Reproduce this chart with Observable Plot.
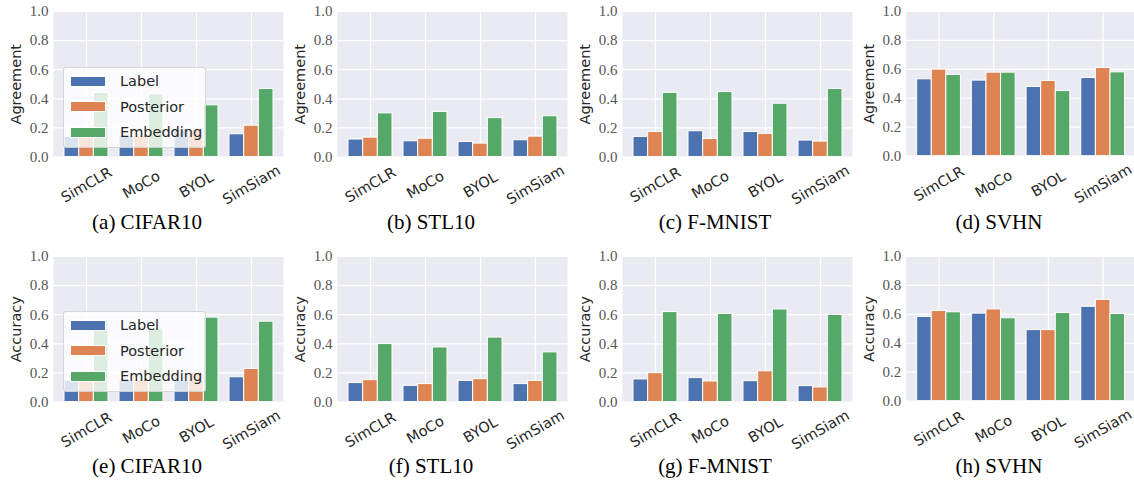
<!DOCTYPE html>
<html><head><meta charset="utf-8">
<script src="https://cdn.jsdelivr.net/npm/d3@7"></script>
<script src="https://cdn.jsdelivr.net/npm/@observablehq/plot@0.6"></script>
<style>
body{margin:0;background:#fff;}
#root{position:relative;width:1134px;height:487px;overflow:hidden;background:#fff;}
.panel{position:absolute;}
.panel svg{overflow:visible;}
.cap{position:absolute;width:240px;text-align:center;font-family:"Liberation Serif",serif;font-size:21px;line-height:1;color:#000;white-space:nowrap;}
.legend{position:absolute;width:141px;height:79px;background:rgba(255,255,255,0.8);border:1px solid rgba(204,204,204,0.8);border-radius:3px;}
.legend .sw{position:absolute;left:6px;width:36px;height:11px;box-sizing:border-box;border:0.5px solid #fff;}
.legend .lb{position:absolute;left:56px;height:20px;line-height:20px;font-family:"DejaVu Sans",sans-serif;font-size:14.5px;color:#262626;white-space:nowrap;}
</style></head><body><div id="root"></div>
<script>
const methods = ["SimCLR", "MoCo", "BYOL", "SimSiam"];
const series = ["Label", "Posterior", "Embedding"];
const colors = ["#4C72B0", "#DD8452", "#55A868"];
const yTicks = [0, 0.2, 0.4, 0.6, 0.8, 1.0];
const rowLabels = ["Agreement", "Accuracy"];
const captionsTop = ["(a) CIFAR10", "(b) STL10", "(c) F-MNIST", "(d) SVHN"];
const captionsBottom = ["(e) CIFAR10", "(f) STL10", "(g) F-MNIST", "(h) SVHN"];

// rows: Label, Posterior, Embedding; columns: SimCLR, MoCo, BYOL, SimSiam
const agreementCIFAR10 = [[0.14, 0.145, 0.185, 0.156], [0.14, 0.145, 0.184, 0.215], [0.44, 0.432, 0.355, 0.467]];
const agreementSTL10 = [[0.12, 0.108, 0.103, 0.115], [0.133, 0.126, 0.092, 0.14], [0.30, 0.31, 0.267, 0.28]];
const agreementFMNIST = [[0.138, 0.177, 0.172, 0.113], [0.172, 0.124, 0.159, 0.106], [0.441, 0.446, 0.366, 0.467]];
const agreementSVHN = [[0.531, 0.522, 0.478, 0.54], [0.598, 0.577, 0.52, 0.609], [0.561, 0.577, 0.45, 0.579]];
const accuracyCIFAR10 = [[0.148, 0.148, 0.148, 0.17], [0.148, 0.15, 0.198, 0.227], [0.557, 0.505, 0.58, 0.552]];
const accuracySTL10 = [[0.13, 0.111, 0.145, 0.123], [0.15, 0.123, 0.157, 0.145], [0.398, 0.375, 0.443, 0.341]];
const accuracyFMNIST = [[0.155, 0.164, 0.143, 0.109], [0.198, 0.141, 0.211, 0.10], [0.618, 0.605, 0.636, 0.598]];
const accuracySVHN = [[0.582, 0.605, 0.491, 0.652], [0.623, 0.634, 0.491, 0.70], [0.614, 0.573, 0.609, 0.602]];

const rows = [
  [agreementCIFAR10, agreementSTL10, agreementFMNIST, agreementSVHN],
  [accuracyCIFAR10, accuracySTL10, accuracyFMNIST, accuracySVHN]
];

const colLeft = [0, 284, 569, 852.5];
const rowTop = [0, 244.5];
const capTop = [211.5, 455.5];
const capCenter = [147, 431, 715, 999];
const legendPos = [[63, 67], [63, 311]];

function panel(values, ylabel) {
  const data = [];
  series.forEach((s, i) => methods.forEach((m, j) => data.push({method: m, series: s, value: values[i][j]})));
  const W = 230, mL = 53, mT = 11, H = 145.5, mB = 60;
  const pIn = 0.2, pOut = 0.19;
  const step = W / (methods.length - pIn + 2 * pOut);
  const bw = step * (1 - pIn);
  const sub = bw / series.length;
  return Plot.plot({
    width: mL + W, height: mT + H + mB,
    marginLeft: mL, marginRight: 0, marginTop: mT, marginBottom: mB,
    style: {background: "transparent", overflow: "visible"},
    x: {domain: methods, paddingInner: pIn, paddingOuter: pOut, axis: null},
    y: {domain: [0, 1], axis: null},
    marks: [
      Plot.frame({fill: "#EAEAF2", stroke: "none"}),
      Plot.gridY(yTicks, {stroke: "white", strokeOpacity: 1, strokeWidth: 1.2}),
      Plot.gridX(methods, {stroke: "white", strokeOpacity: 1, strokeWidth: 1.2}),
      ...series.map((s, i) => Plot.barY(data.filter(d => d.series === s), {
        x: "method", y: "value", fill: colors[i], stroke: "white", strokeWidth: 1,
        insetLeft: i * sub, insetRight: (series.length - 1 - i) * sub
      })),
      Plot.text(yTicks, {y: d => d, text: d => d3.format(".1f")(d), frameAnchor: "left", dx: -5,
        textAnchor: "end", lineAnchor: "middle", fontFamily: "Liberation Serif", fontSize: 15, fill: "#555"}),
      Plot.text(methods, {x: d => d, text: d => d, frameAnchor: "bottom", dy: 28, rotate: -30,
        textAnchor: "middle", lineAnchor: "middle", fontFamily: "DejaVu Sans", fontSize: 14.5, fill: "#262626"}),
      Plot.text([ylabel], {text: d => d, frameAnchor: "left", dx: -37, rotate: -90,
        textAnchor: "middle", lineAnchor: "middle", fontFamily: "DejaVu Sans", fontSize: 14.5, fill: "#262626"})
    ]
  });
}

const root = document.getElementById("root");
rows.forEach((row, r) => {
  row.forEach((vals, c) => {
    const div = document.createElement("div");
    div.className = "panel";
    div.style.left = colLeft[c] + "px";
    div.style.top = rowTop[r] + "px";
    div.appendChild(panel(vals, rowLabels[r]));
    root.appendChild(div);
    const cap = document.createElement("div");
    cap.className = "cap";
    cap.style.left = (capCenter[c] - 120) + "px";
    cap.style.top = capTop[r] + "px";
    cap.textContent = (r === 0 ? captionsTop : captionsBottom)[c];
    root.appendChild(cap);
  });
  const lg = document.createElement("div");
  lg.className = "legend";
  lg.style.left = legendPos[r][0] + "px";
  lg.style.top = legendPos[r][1] + "px";
  series.forEach((s, i) => {
    const cy = 13 + i * 25.5;
    const sw = document.createElement("div");
    sw.className = "sw";
    sw.style.top = (cy - 5.5) + "px";
    sw.style.background = colors[i];
    lg.appendChild(sw);
    const lb = document.createElement("div");
    lb.className = "lb";
    lb.style.top = (cy - 10) + "px";
    lb.textContent = s;
    lg.appendChild(lb);
  });
  root.appendChild(lg);
});
</script></body></html>
